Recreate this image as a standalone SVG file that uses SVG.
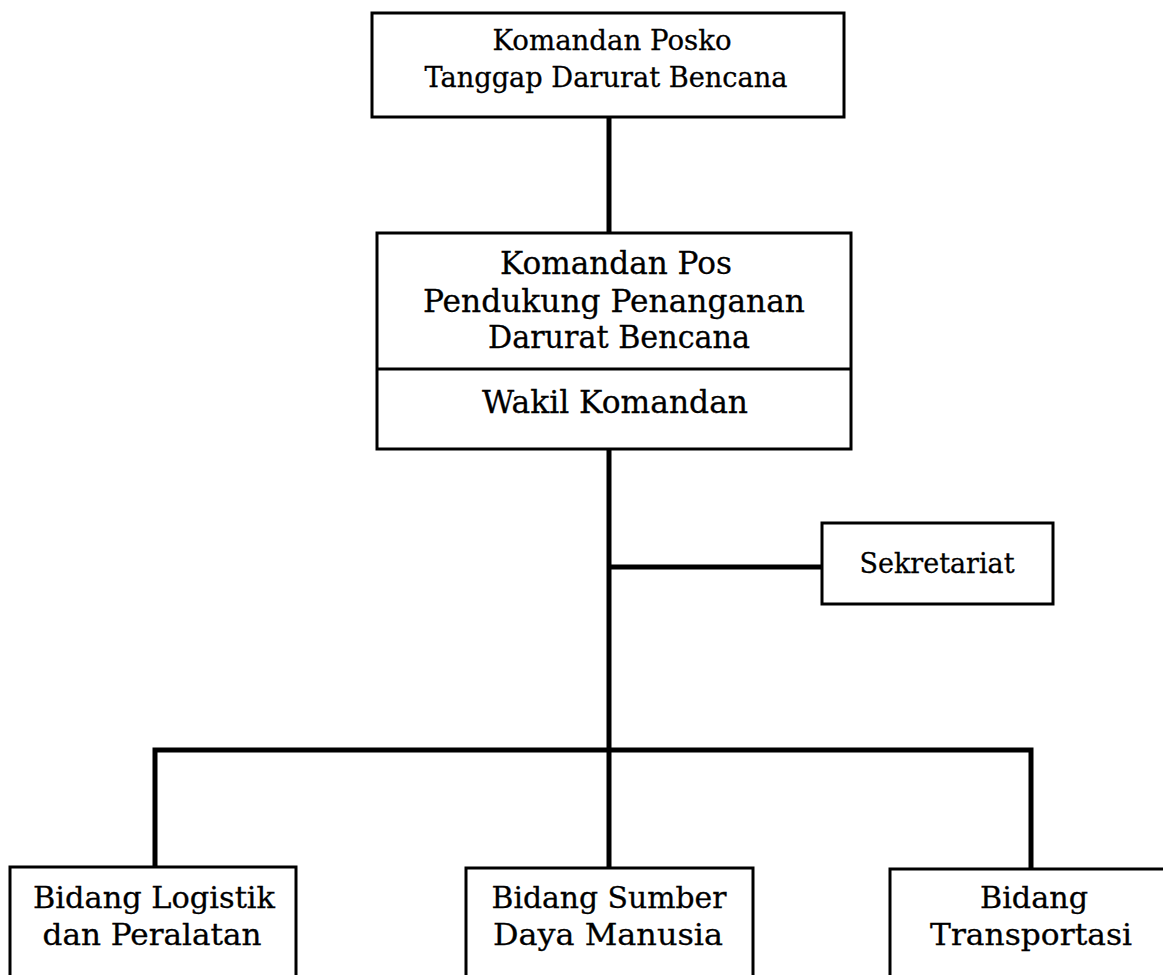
<svg xmlns="http://www.w3.org/2000/svg" width="1163" height="975" viewBox="0 0 1163 975">
<style>
.box{fill:#fff;stroke:#000;stroke-width:3}
.conn{stroke:#000;stroke-width:5;fill:none}
.t{font-family:"DejaVu Serif","Liberation Serif",serif;fill:#000;stroke:#000;stroke-width:0.3;text-anchor:middle}
.s1{font-size:27.5px}
.s2{font-size:31px}
.s3{font-size:27px}
.s4{font-size:30.5px}
</style>
<rect width="1163" height="975" fill="#fff"/>
<g id="connectors">
<line class="conn" x1="609" y1="117" x2="609" y2="233"/>
<line class="conn" x1="609" y1="449" x2="609" y2="868"/>
<line class="conn" x1="609" y1="567" x2="822" y2="567"/>
<polyline class="conn" points="155,867 155,750 1031,750 1031,869"/>
</g>
<g id="n-komandan-posko">
<rect class="box" x="372" y="13" width="472" height="104"/>
<text class="t s1" x="612" y="50" textLength="239" lengthAdjust="spacingAndGlyphs">Komandan Posko</text>
<text class="t s1" x="606" y="87" textLength="363" lengthAdjust="spacingAndGlyphs">Tanggap Darurat Bencana</text>
</g>
<g id="n-komandan-pos">
<rect class="box" x="377" y="233" width="474" height="216"/>
<line class="box" x1="377" y1="369" x2="851" y2="369"/>
<text class="t s2" x="616" y="274" textLength="232" lengthAdjust="spacingAndGlyphs">Komandan Pos</text>
<text class="t s2" x="614" y="312" textLength="382" lengthAdjust="spacingAndGlyphs">Pendukung Penanganan</text>
<text class="t s2" x="619" y="348" textLength="262" lengthAdjust="spacingAndGlyphs">Darurat Bencana</text>
<text class="t s2" x="615" y="413" textLength="266" lengthAdjust="spacingAndGlyphs">Wakil Komandan</text>
</g>
<g id="n-sekretariat">
<rect class="box" x="822" y="523" width="231" height="81"/>
<text class="t s3" x="937" y="573" textLength="155" lengthAdjust="spacingAndGlyphs">Sekretariat</text>
</g>
<g id="n-logistik">
<rect class="box" x="10" y="867" width="286" height="120"/>
<text class="t s4" x="154" y="908" textLength="242" lengthAdjust="spacingAndGlyphs">Bidang Logistik</text>
<text class="t s4" x="152" y="945" textLength="219" lengthAdjust="spacingAndGlyphs">dan Peralatan</text>
</g>
<g id="n-sdm">
<rect class="box" x="466" y="868" width="287" height="120"/>
<text class="t s4" x="609" y="908" textLength="235" lengthAdjust="spacingAndGlyphs">Bidang Sumber</text>
<text class="t s4" x="608" y="945" textLength="230" lengthAdjust="spacingAndGlyphs">Daya Manusia</text>
</g>
<g id="n-transportasi">
<rect class="box" x="890" y="869" width="290" height="120"/>
<text class="t s4" x="1034" y="908" textLength="108" lengthAdjust="spacingAndGlyphs">Bidang</text>
<text class="t s4" x="1031" y="945" textLength="202" lengthAdjust="spacingAndGlyphs">Transportasi</text>
</g>
</svg>
